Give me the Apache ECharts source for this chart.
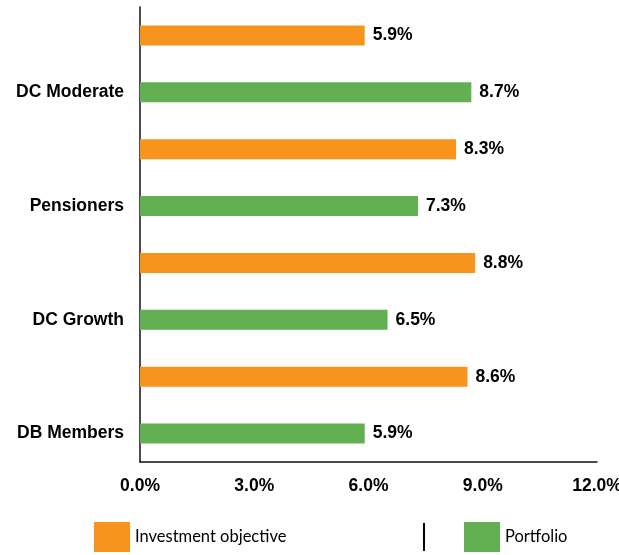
<!DOCTYPE html>
<html>
<head>
<meta charset="utf-8">
<script src="https://cdn.jsdelivr.net/npm/echarts@6/dist/echarts.min.js"></script>
<style>
  html, body { margin: 0; padding: 0; background: #fff; }
  #chart { width: 619px; height: 555px; }
</style>
</head>
<body>
<div id="chart"></div>
<script>
// Groups listed bottom to top
const groups = ['DB Members', 'DC Growth', 'Pensioners', 'DC Moderate'];
const objective = [8.6, 8.8, 8.3, 5.9];
const portfolio = [5.9, 6.5, 7.3, 8.7];
const xTicks = { min: 0, max: 12, step: 3 };

const ORANGE = '#F7941D';
const GREEN = '#62B052';

// Each group takes two rows: the labelled portfolio row, then the objective row above it
const rows = [];
const objRows = [];
const portRows = [];
groups.forEach((g, i) => {
  rows.push(g);
  portRows.push(portfolio[i]);
  objRows.push('-');
  rows.push('');
  portRows.push('-');
  objRows.push(objective[i]);
});

const boldText = { fontFamily: 'Liberation Sans, Arial, sans-serif', fontWeight: 'bold', fontSize: 17.5, color: '#000' };
const legendText = { fontFamily: 'Lato, sans-serif', fontSize: 16.5, color: '#000' };

const chart = echarts.init(document.getElementById('chart'), null, { renderer: 'canvas' });
chart.setOption({
  animation: false,
  backgroundColor: '#fff',
  grid: { left: 140, right: 22, top: 7, bottom: 93, containLabel: false, outerBoundsMode: 'none' },
  xAxis: {
    type: 'value',
    min: xTicks.min,
    max: xTicks.max,
    interval: xTicks.step,
    axisLine: { show: true, lineStyle: { color: '#111', width: 1.5 } },
    axisTick: { show: false },
    splitLine: { show: false },
    axisLabel: Object.assign({ margin: 15, formatter: v => v.toFixed(1) + '%' }, boldText)
  },
  yAxis: {
    type: 'category',
    data: rows,
    axisLine: { show: true, lineStyle: { color: '#111', width: 1.5 } },
    axisTick: { show: false },
    axisLabel: Object.assign({ margin: 16, interval: 0 }, boldText)
  },
  legend: [
    {
      left: 89, top: 517,
      itemWidth: 36, itemHeight: 30, icon: 'rect',
      data: ['Investment objective'],
      textStyle: legendText
    },
    {
      left: 459, top: 517,
      itemWidth: 36, itemHeight: 30, icon: 'rect',
      data: ['Portfolio'],
      textStyle: legendText
    }
  ],
  graphic: [
    {
      type: 'line',
      shape: { x1: 424, y1: 523, x2: 424, y2: 551 },
      style: { stroke: '#000', lineWidth: 2 }
    }
  ],
  series: [
    {
      name: 'Investment objective',
      type: 'bar',
      data: objRows,
      barWidth: 20,
      barGap: '-100%',
      itemStyle: { color: ORANGE },
      label: Object.assign({ show: true, position: 'right', distance: 8, formatter: p => p.value.toFixed(1) + '%' }, boldText)
    },
    {
      name: 'Portfolio',
      type: 'bar',
      data: portRows,
      barWidth: 20,
      barGap: '-100%',
      itemStyle: { color: GREEN },
      label: Object.assign({ show: true, position: 'right', distance: 8, formatter: p => p.value.toFixed(1) + '%' }, boldText)
    }
  ]
});
</script>
</body>
</html>
